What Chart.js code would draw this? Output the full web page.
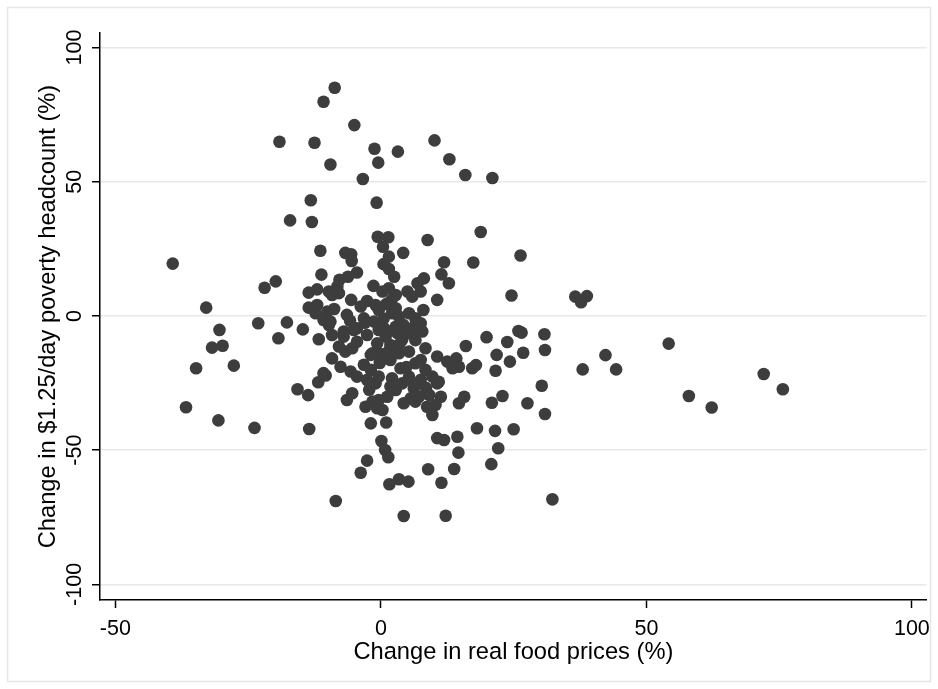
<!DOCTYPE html>
<html>
<head>
<meta charset="utf-8">
<title>Food prices and poverty</title>
<script src="https://cdn.jsdelivr.net/npm/chart.js@4/dist/chart.umd.min.js"></script>
<style>
  html, body { margin: 0; padding: 0; background: #ffffff; }
  #wrap { width: 938px; height: 689px; }
</style>
</head>
<body>
<div id="wrap"><canvas id="chart" width="938" height="689"></canvas></div>
<script>
// Change in real food prices (%), one value per observation
const foodPriceChange = [
  -8.7, -10.8, -5.0, -19.1, -12.5, -1.2, 3.2, 10.1, 12.9, 15.9,
  21.0, -9.5, -0.5, -3.4, -13.2, -0.8, -17.1, -13.0, -0.6, 1.4,
  8.8, 18.8, -39.2, -11.4, -6.7, -5.6, -5.5, -11.2, -19.8, -21.9,
  -32.9, -13.6, -12.0, -13.6, -12.0, -23.1, -17.7, -14.7, -19.3, -11.7,
  -30.4, -31.8, -29.8, -34.8, -27.7, -15.7, -13.7, -11.8, -10.4, -36.7,
  -30.6, -23.8, -13.5, 0.4, 1.5, 0.5, 1.5, 2.5, 4.2, 11.9,
  17.4, 11.4, 12.8, -4.5, -6.2, -7.8, -8.2, -9.8, 8.1, 6.9,
  7.5, 5.0, -9.2, -7.9, 5.9, 10.6, 8.0, -1.4, 0.3, 1.5,
  2.8, -5.6, -3.8, -2.6, -1.0, -0.4, 1.0, 2.8, 3.4, 5.3,
  6.5, 2.1, -12.3, -10.8, -9.8, -10.1, -6.4, -3.2, -1.3, -4.5,
  -7.0, 0.6, 2.5, 4.3, 6.5, 7.5, -9.2, -7.0, -5.1, -4.5,
  -2.6, -0.4, 0.9, 2.8, 4.0, 5.3, 7.8, 3.1, -0.7, -7.9,
  -6.7, -5.4, -1.6, 1.8, 3.4, 5.3, 8.4, 0.0, 1.8, 7.5,
  16.0, 19.9, 10.6, 12.5, 14.2, 14.7, 17.2, 17.9, 21.8, 13.5,
  21.6, -9.2, -7.6, -5.7, -4.5, -3.2, -1.9, -0.4, -1.0, 2.1,
  3.7, 5.3, 6.5, 8.4, 9.7, 10.9, -10.8, -2.6, -6.4, -5.4,
  -2.9, -1.6, -0.7, -0.4, 1.2, 2.8, 4.0, 5.3, 6.2, 5.6,
  4.3, 6.5, 7.5, 9.1, 10.6, 11.3, 10.3, 9.7, 1.8, 7.2,
  0.3, 8.7, 14.7, 15.7, 20.9, -1.9, 1.0, 0.1, 0.8, 1.4,
  -2.6, -3.8, 1.6, 3.4, 5.2, -8.5, 4.3, 12.2, 8.9, 11.4,
  10.6, 11.9, 14.4, 14.6, 13.8, 18.1, 21.5, 22.1, 20.8, 25.0,
  26.3, 24.6, 36.6, 38.8, 37.7, 23.8, 24.3, 25.9, 26.5, 26.8,
  30.8, 30.9, 30.3, 30.9, 27.6, 22.9, 32.3, 38.0, 42.3, 44.3,
  54.2, 58.0, 62.3, 72.1, 75.7, -1.9, -9.5, 0.5, -3.0, 6.5,
  3.5, -5.8, 1.5, 4.8, -2.2, 8.5, -8.8, 2.0, -0.2, 6.0
];

// Change in $1.25/day poverty headcount (%), same order as above
const povertyChange = [
  85.0, 79.8, 71.1, 64.9, 64.5, 62.3, 61.2, 65.4, 58.4, 52.5,
  51.4, 56.4, 57.1, 51.0, 43.1, 42.2, 35.6, 35.0, 29.5, 29.3,
  28.3, 31.3, 19.5, 24.3, 23.5, 23.0, 20.5, 15.4, 12.9, 10.5,
  3.1, 8.7, 9.9, 3.1, 4.1, -2.7, -2.4, -5.0, -8.3, -8.7,
  -5.2, -11.8, -11.1, -19.5, -18.5, -27.3, -29.5, -24.7, -22.2, -34.0,
  -38.9, -41.7, -42.1, 25.8, 22.1, 19.3, 17.5, 14.6, 23.5, 20.0,
  19.9, 15.5, 12.2, 16.2, 14.6, 13.5, 11.0, 9.1, 14.0, 12.2,
  9.1, 9.1, 7.8, 8.5, 7.2, 6.0, 2.2, 11.2, 9.1, 10.3,
  7.8, 6.0, 3.5, 5.6, 4.1, 2.2, 4.4, 2.9, -0.2, 1.0,
  -0.9, 1.0, 1.0, -1.5, -3.4, 1.6, 0.4, -0.9, -2.1, -4.6,
  -5.8, -4.6, -5.2, -3.4, -3.4, -2.7, -7.1, -7.7, -5.2, -9.6,
  -7.1, -5.2, -7.7, -4.0, -8.9, -6.4, -5.8, -6.4, -10.2, -11.4,
  -13.3, -12.0, -13.9, -10.8, -13.9, -13.3, -12.0, -14.2, -16.4, -16.4,
  -11.2, -7.9, -15.1, -17.0, -15.8, -18.9, -19.5, -18.3, -14.5, -19.5,
  -20.4, -15.8, -18.9, -20.7, -22.6, -18.2, -20.1, -22.6, -25.1, -23.2,
  -19.5, -22.6, -17.6, -20.1, -22.6, -24.5, -21.3, -23.8, -31.3, -28.8,
  -33.8, -31.9, -34.4, -31.3, -30.1, -27.6, -25.1, -23.8, -26.9, -30.7,
  -32.5, -31.9, -23.8, -29.4, -25.1, -30.1, -33.1, -36.9, -26.3, -30.0,
  -35.0, -33.8, -32.5, -30.1, -32.3, -40.0, -39.7, -46.6, -49.9, -52.6,
  -53.9, -58.4, -62.7, -60.8, -61.7, -68.9, -74.5, -74.4, -57.1, -62.1,
  -45.5, -46.2, -45.0, -50.9, -57.0, -41.8, -42.8, -49.3, -55.2, -42.2,
  22.5, 7.6, 7.2, 7.4, 5.1, -9.7, -17.0, -5.6, -6.2, -13.7,
  -6.8, -12.7, -26.0, -36.5, -32.5, -29.8, -68.3, -19.9, -14.6, -19.9,
  -10.3, -29.8, -34.1, -21.6, -27.3, -14.5, -2.1, -1.0, -2.5, -9.0,
  -10.5, -1.8, -13.0, -19.0, -27.5, -26.8, 2.6, 6.0, -17.5, -4.8
];

// Axis ticks and titles
const xTicks = [-50, 0, 50, 100];
const yTicks = [-100, -50, 0, 50, 100];
const xTitle = 'Change in real food prices (%)';
const yTitle = 'Change in $1.25/day poverty headcount (%)';

const FONT = '"Liberation Sans", Arial, Helvetica, sans-serif';
const INK = '#000000';
const MARKER = '#3d3d3d';

const points = foodPriceChange.map((x, i) => ({ x: x, y: povertyChange[i] }));

// White page with a thin light frame around the graph region
const graphFrame = {
  id: 'graphFrame',
  beforeDraw(chart) {
    const ctx = chart.ctx;
    ctx.save();
    ctx.fillStyle = '#ffffff';
    ctx.fillRect(0, 0, chart.width, chart.height);
    ctx.strokeStyle = '#e6e6e6';
    ctx.lineWidth = 1.5;
    ctx.strokeRect(7.5, 7.5, chart.width - 15, chart.height - 15);
    ctx.restore();
  }
};

new Chart(document.getElementById('chart'), {
  type: 'scatter',
  data: {
    datasets: [{
      data: points,
      backgroundColor: MARKER,
      borderWidth: 0,
      pointRadius: 6.3,
      pointHoverRadius: 6.3
    }]
  },
  options: {
    responsive: false,
    animation: false,
    events: [],
    layout: { padding: { top: 33, right: 11, bottom: 22, left: 34 } },
    plugins: {
      legend: { display: false },
      tooltip: { enabled: false }
    },
    scales: {
      x: {
        type: 'linear',
        position: 'bottom',
        min: -52.9,
        max: 102.8,
        bounds: 'data',
        afterBuildTicks: (s) => { s.ticks = xTicks.map(v => ({ value: v })); },
        afterFit: (s) => { s.height = 67; },
        grid: {
          drawOnChartArea: false,
          drawTicks: true,
          tickLength: 8,
          tickColor: INK,
          tickWidth: 1.5
        },
        border: { display: true, color: INK, width: 1.5 },
        ticks: {
          padding: 8,
          minRotation: 0,
          maxRotation: 0,
          autoSkip: false,
          color: INK,
          font: { family: FONT, size: 21.5 },
          callback: (v) => String(v)
        },
        title: {
          display: true,
          text: xTitle,
          color: INK,
          font: { family: FONT, size: 23.7 },
          padding: { top: 0, bottom: 0 }
        }
      },
      y: {
        type: 'linear',
        position: 'left',
        min: -105.8,
        max: 105.4,
        bounds: 'data',
        afterBuildTicks: (s) => { s.ticks = yTicks.map(v => ({ value: v })); },
        afterFit: (s) => { s.width = 66; },
        grid: {
          drawOnChartArea: true,
          color: '#e8e8e8',
          lineWidth: 1.5,
          drawTicks: true,
          tickLength: 8,
          tickColor: INK,
          tickWidth: 1.5
        },
        border: { display: true, color: INK, width: 1.5 },
        ticks: {
          padding: -4.5,
          minRotation: 90,
          maxRotation: 90,
          crossAlign: 'center',
          autoSkip: false,
          color: INK,
          font: { family: FONT, size: 21.5 },
          callback: (v) => String(v)
        },
        title: {
          display: true,
          text: yTitle,
          color: INK,
          font: { family: FONT, size: 23.7 },
          padding: { top: 0, bottom: 0 }
        }
      }
    }
  },
  plugins: [graphFrame]
});
</script>
</body>
</html>
